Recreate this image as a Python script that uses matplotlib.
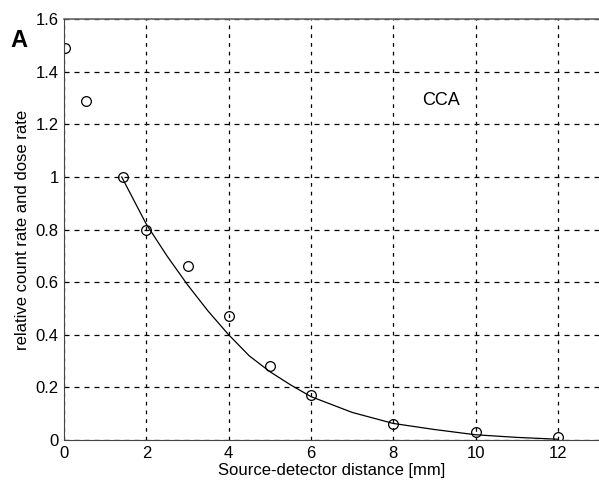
import numpy as np
import matplotlib.pyplot as plt

plt.rcParams['font.family'] = ['Liberation Sans', 'DejaVu Sans']

# measured points (circles)
dist = [0.02, 0.54, 1.42, 2, 3, 4, 5, 6, 8, 10, 12]
rate = [1.49, 1.29, 1.0, 0.8, 0.66, 0.47, 0.28, 0.17, 0.06, 0.03, 0.01]

# fitted curve
fit_x = [1.4, 2, 2.5, 3, 3.5, 4, 4.5, 5, 5.5, 6, 7, 8, 9, 10, 11, 12]
fit_y = [1.0, 0.82, 0.70, 0.59, 0.49, 0.40, 0.32, 0.26, 0.21, 0.165, 0.105, 0.063, 0.04, 0.02, 0.01, 0.003]

fig = plt.figure(figsize=(5.99, 4.90), dpi=100)
ax = fig.add_axes([0.107, 0.102, 0.893, 0.859])

ax.plot(fit_x, fit_y, color="k", lw=0.9)
ax.plot(dist, rate, "o", mfc="none", mec="k", ms=7, mew=0.9, clip_on=True)

ax.set_xlim(0, 13)
ax.set_ylim(0, 1.6)
ax.set_xticks([0, 2, 4, 6, 8, 10, 12])
ax.set_yticks([0, 0.2, 0.4, 0.6, 0.8, 1, 1.2, 1.4, 1.6])
ax.set_yticklabels(["0", "0.2", "0.4", "0.6", "0.8", "1", "1.2", "1.4", "1.6"])
ax.grid(True, axis="y", color="k", linestyle=(0, (4, 4)), linewidth=0.9)
ax.grid(True, axis="x", color="k", linestyle=(0, (3, 4)), linewidth=0.9)
ax.tick_params(labelsize=12, length=0, pad=4)
for s in ["top", "right"]:
    ax.spines[s].set_visible(False)
ax.spines["left"].set_color("#444444")
ax.spines["bottom"].set_color("#444444")
ax.axhline(1.6, color="#666666", lw=1.2, clip_on=False)

ax.set_xlabel("Source-detector distance [mm]", fontsize=12, labelpad=2)
ax.set_ylabel("relative count rate and dose rate", fontsize=12, labelpad=4)
ax.text(8.7, 1.29, "CCA", fontsize=13, va="center")
fig.text(0.017, 0.905, "A", fontsize=17, fontweight="bold")

fig.savefig("out.png", dpi=100)
